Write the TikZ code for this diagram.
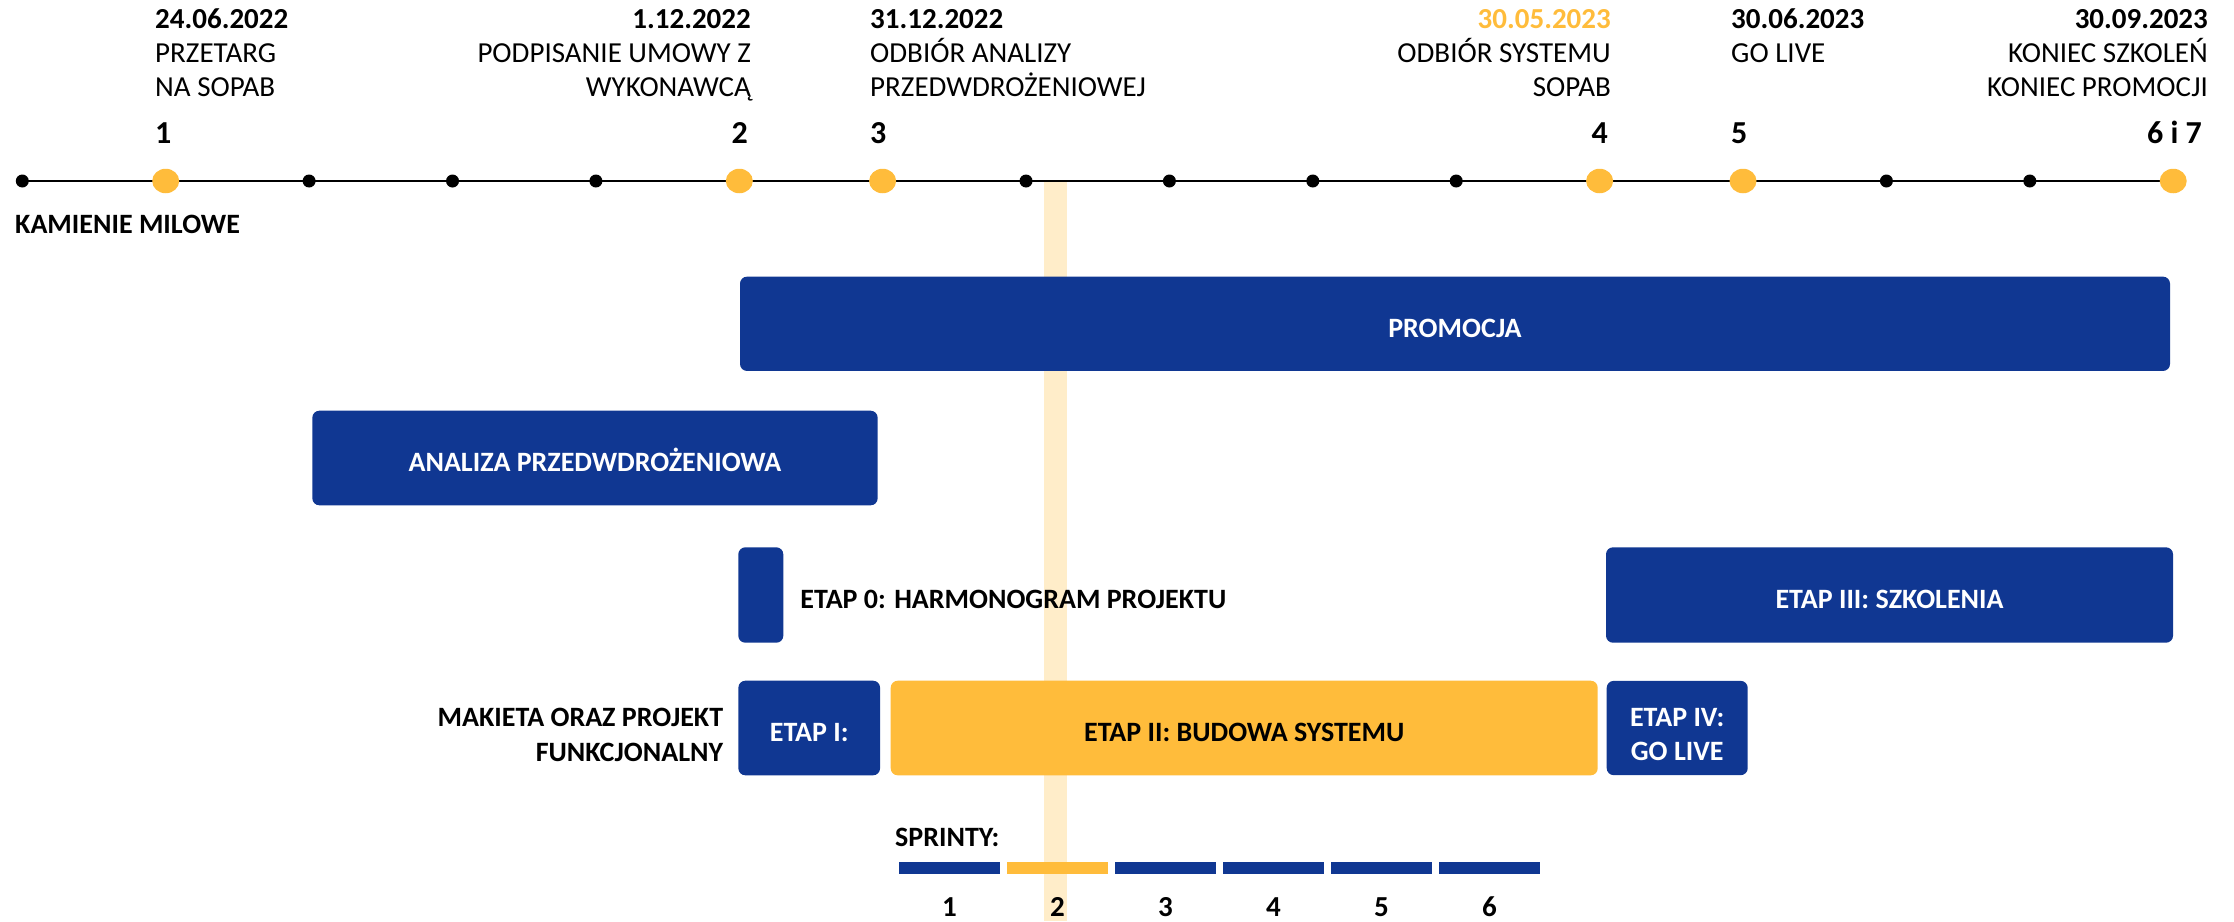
\documentclass[tikz,border=0pt]{standalone}
\usepackage{fontspec}
\setmainfont{Carlito}
\usepackage{tikz}
\usetikzlibrary{positioning,shapes.geometric}
\definecolor{sopabblue}{RGB}{16,55,146}
\definecolor{sopabyellow}{RGB}{255,188,59}
\definecolor{bandcol}{RGB}{255,237,201}

\begin{document}
\begin{tikzpicture}[line cap=round,line join=round,x=1pt,y=-1pt,
  box/.style={fill=sopabblue,rounded corners=7pt,inner sep=0pt,text height=27pt,text depth=0pt,text=white,font=\fontsize{28}{34}\selectfont\bfseries},
  ybox/.style={box,fill=sopabyellow,text=black},
  tick/.style={circle,fill=black,inner sep=0pt,minimum size=13pt},
  milestone/.style={ellipse,fill=sopabyellow,inner sep=0pt,minimum width=27pt,minimum height=24.5pt},
  date/.style={inner sep=0pt,font=\fontsize{29}{34}\selectfont\bfseries},
  desc/.style={inner sep=0pt,font=\fontsize{29}{34}\selectfont},
  num/.style={inner sep=0pt,font=\fontsize{32}{38}\selectfont\bfseries},
  btext/.style={inner sep=0pt,text height=27pt,text depth=0pt,font=\fontsize{28}{34}\selectfont\bfseries},
  ltext/.style={inner sep=0pt,font=\fontsize{28}{34}\selectfont\bfseries},
  sprint/.style={fill=sopabblue,inner sep=0pt,minimum width=101pt,minimum height=11.7pt}]
\useasboundingbox (0,0) rectangle (2234,921);
% pasek biezacego sprintu
\fill[bandcol] (1044.3,182) rectangle (1066.5,921);
% os czasu
\coordinate (t0) at (22.3,181);
\coordinate (t15) at (2173.2,181);
\draw[line width=2.2pt] (t0) -- (t15);
\node[tick] (d0) at (22.3,181) {};
\node[milestone] (d1) at (165.7,181) {};
\node[tick] (d2) at (309.1,181) {};
\node[tick] (d3) at (452.5,181) {};
\node[tick] (d4) at (595.9,181) {};
\node[milestone] (d5) at (739.3,181) {};
\node[milestone] (d6) at (882.6,181) {};
\node[tick] (d7) at (1026,181) {};
\node[tick] (d8) at (1169.4,181) {};
\node[tick] (d9) at (1312.8,181) {};
\node[tick] (d10) at (1456.2,181) {};
\node[milestone] (d11) at (1599.6,181) {};
\node[milestone] (d12) at (1743,181) {};
\node[tick] (d13) at (1886.4,181) {};
\node[tick] (d14) at (2029.8,181) {};
\node[milestone] (d15) at (2173.2,181) {};
% kamienie milowe
\node[date,anchor=base west] (m1date) at (155,28.3) {24.06.2022};
\node[desc,anchor=base west] (m1a) at (155,62.7) {PRZETARG};
\node[desc,anchor=base west] (m1b) at (155,96.7) {NA SOPAB};
\node[num,anchor=base west] (m1num) at (155,143.3) {1};
\node[date,anchor=base east] (m2date) at (751,28.3) {1.12.2022};
\node[desc,anchor=base east] (m2a) at (751,62.7) {PODPISANIE UMOWY Z};
\node[desc,anchor=base east] (m2b) at (751,96.7) {WYKONAWCĄ};
\node[num,anchor=base east] (m2num) at (748,143.3) {2};
\node[date,anchor=base west] (m3date) at (870,28.3) {31.12.2022};
\node[desc,anchor=base west] (m3a) at (870,62.7) {ODBIÓR ANALIZY};
\node[desc,anchor=base west] (m3b) at (870,96.7) {PRZEDWDROŻENIOWEJ};
\node[num,anchor=base west] (m3num) at (870,143.3) {3};
\node[date,anchor=base east,text=sopabyellow] (m4date) at (1611,28.3) {30.05.2023};
\node[desc,anchor=base east] (m4a) at (1611,62.7) {ODBIÓR SYSTEMU};
\node[desc,anchor=base east] (m4b) at (1611,96.7) {SOPAB};
\node[num,anchor=base east] (m4num) at (1608,143.3) {4};
\node[date,anchor=base west] (m5date) at (1731,28.3) {30.06.2023};
\node[desc,anchor=base west] (m5a) at (1731,62.7) {GO LIVE};
\node[num,anchor=base west] (m5num) at (1731,143.3) {5};
\node[date,anchor=base east] (m6date) at (2208,28.3) {30.09.2023};
\node[desc,anchor=base east] (m6a) at (2208,62.7) {KONIEC SZKOLEŃ};
\node[desc,anchor=base east] (m6b) at (2208,96.7) {KONIEC PROMOCJI};
\node[num,anchor=base east] (m6num) at (2202,143.3) {6 i 7};
\node[ltext,anchor=base west] (kamienie) at (15,233.3) {KAMIENIE MILOWE};
% etapy
\node[box,minimum width=1430pt,minimum height=94.3pt] (promocja) at (1455,323.8) {PROMOCJA};
\node[box,minimum width=565.3pt,minimum height=94.6pt] (analiza) at (595,458) {ANALIZA PRZEDWDROŻENIOWA};
\node[box,minimum width=45pt,minimum height=95.4pt] (etap0) at (760.8,595) {};
\node[btext,right=16.7pt of etap0] (etap0txt) {ETAP 0: HARMONOGRAM PROJEKTU};
\node[box,minimum width=567pt,minimum height=95.4pt] (etap3) at (1889.5,595) {ETAP III: SZKOLENIA};
\node[box,minimum width=141.7pt,minimum height=94.6pt] (etap1) at (809.2,728) {ETAP I:};
\node[ybox,minimum width=707pt,minimum height=94.6pt] (etap2) at (1244.2,728) {ETAP II: BUDOWA SYSTEMU};
\node[box,minimum width=141pt,minimum height=94.3pt] (etap4) at (1677.2,728) {};
\node[ltext,anchor=base,text=white] (etap4a) at (1677.2,726) {ETAP IV:};
\node[ltext,anchor=base,text=white] (etap4b) at (1677.2,760) {GO LIVE};
\node[ltext,anchor=base east] (makieta) at (723.3,726) {MAKIETA ORAZ PROJEKT};
\node[ltext,anchor=base east] (funkc) at (723.3,761) {FUNKCJONALNY};
% sprinty
\node[ltext,anchor=base west] (sprinty) at (895,846) {SPRINTY:};
\node[sprint] (s1) at (949.5,868.2) {};
\node[sprint,fill=sopabyellow] (s2) at (1057.5,868.2) {};
\node[sprint] (s3) at (1165.5,868.2) {};
\node[sprint] (s4) at (1273.5,868.2) {};
\node[sprint] (s5) at (1381.5,868.2) {};
\node[sprint] (s6) at (1489.5,868.2) {};
\node[date,anchor=base] (n1) at (949.5,916) {1};
\node[date,anchor=base] (n2) at (1057.5,916) {2};
\node[date,anchor=base] (n3) at (1165.5,916) {3};
\node[date,anchor=base] (n4) at (1273.5,916) {4};
\node[date,anchor=base] (n5) at (1381.5,916) {5};
\node[date,anchor=base] (n6) at (1489.5,916) {6};
\end{tikzpicture}
\end{document}
